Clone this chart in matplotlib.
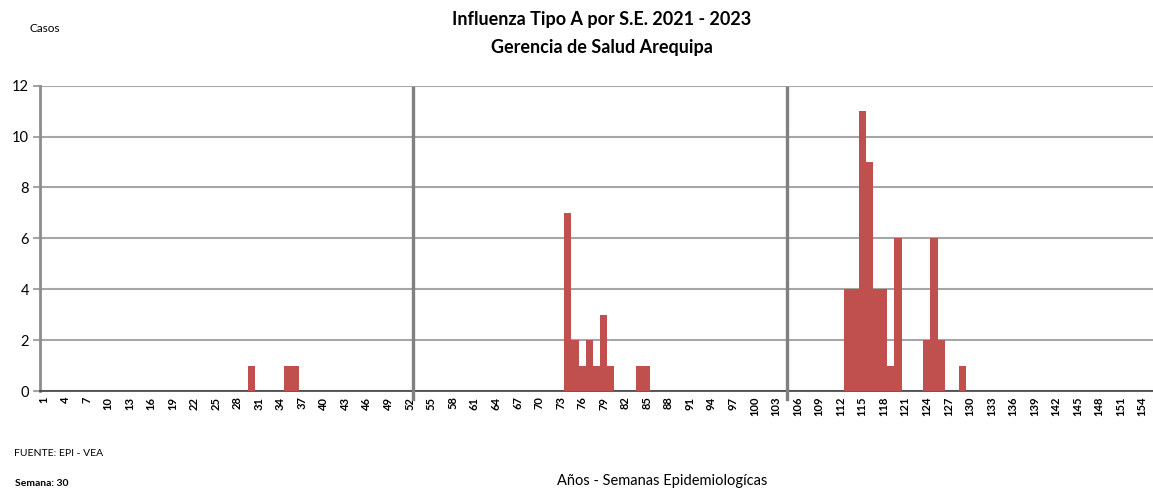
import numpy as np
import matplotlib.pyplot as plt

# semanas epidemiologicas correlativas 2021 - 2023
n_weeks = 155
case_weeks = [30, 35, 36,
              74, 75, 76, 77, 78, 79, 80, 84, 85,
              113, 114, 115, 116, 117, 118, 119, 120, 124, 125, 126, 129]
case_counts = [1, 1, 1,
               7, 2, 1, 2, 1, 3, 1, 1, 1,
               4, 4, 11, 9, 4, 4, 1, 6, 2, 6, 2, 1]
year_breaks = [52.5, 104.5]
tick_weeks = list(range(1, 155, 3))

weeks = np.arange(1, n_weeks + 1)
cases = np.zeros(n_weeks)
for w, c in zip(case_weeks, case_counts):
    cases[w - 1] = c

plt.rcParams['font.family'] = ['Lato', 'DejaVu Sans']

fig = plt.figure(figsize=(11.53, 4.90), dpi=100)
ax = fig.add_axes([40 / 1153, 1 - 391 / 490, 1113 / 1153, (391 - 85.7) / 490])

ax.bar(weeks, cases, width=1.0, color='#C0504D', zorder=3)

for xb in year_breaks:
    ax.plot([xb, xb], [-0.3, 11.9], color='#808080', lw=2.4, zorder=4, clip_on=False)

ax.set_xlim(0.5, n_weeks + 0.5)
ax.set_ylim(0, 12)
ax.set_yticks(range(0, 13, 2))
ax.grid(axis='y', color='#A6A6A6', lw=1.5, zorder=0)
ax.set_xticks(tick_weeks)
ax.set_xticklabels([str(t) for t in tick_weeks], rotation=90, fontsize=8, fontweight='bold')
ax.tick_params(axis='x', length=0, pad=4)
ax.tick_params(axis='y', length=5, color='#A6A6A6', width=1.5, labelsize=10.5, pad=3)

for s in ['top', 'right']:
    ax.spines[s].set_visible(False)
ax.spines['left'].set_color('#8C8C8C')
ax.spines['left'].set_linewidth(2)
ax.spines['bottom'].set_color('#404040')
ax.spines['bottom'].set_linewidth(1.2)

fig.text(602 / 1153, 1 - 20 / 490, 'Influenza Tipo A por S.E. 2021 - 2023', ha='center', va='center',
         fontsize=13, fontweight='bold')
fig.text(602 / 1153, 1 - 47 / 490, 'Gerencia de Salud Arequipa', ha='center', va='center',
         fontsize=13, fontweight='bold')
fig.text(30 / 1153, 1 - 28 / 490, 'Casos', ha='left', va='center', fontsize=8.5)
fig.text(14 / 1153, 1 - 453 / 490, 'FUENTE: EPI - VEA', ha='left', va='center', fontsize=7.5)
fig.text(15 / 1153, 1 - 483 / 490, 'Semana: 30', ha='left', va='center', fontsize=7.5, fontweight='bold')
fig.text(662 / 1153, 1 - 481 / 490, 'Años - Semanas Epidemiologícas', ha='center', va='center', fontsize=10.5)

fig.savefig('out.png', dpi=100)
